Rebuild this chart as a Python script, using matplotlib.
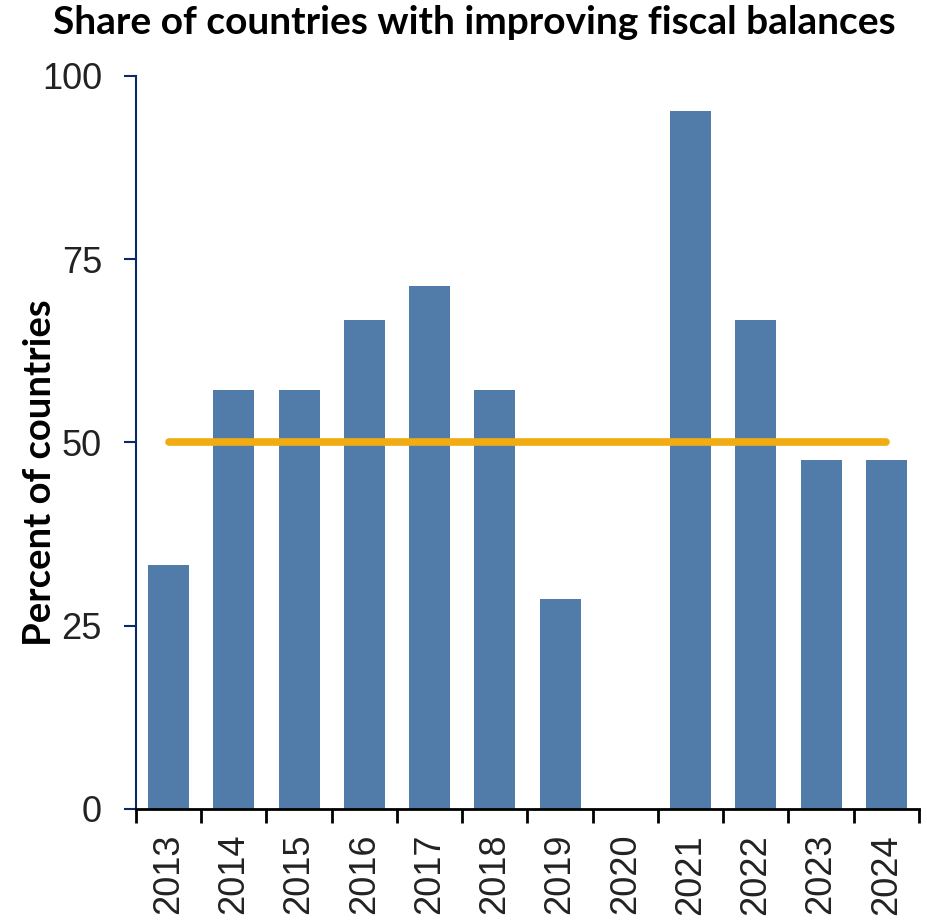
import matplotlib.pyplot as plt
import numpy as np

years = ['2013', '2014', '2015', '2016', '2017', '2018',
         '2019', '2020', '2021', '2022', '2023', '2024']
share = [33.3, 57.1, 57.1, 66.7, 71.4, 57.1, 28.6, 0.0, 95.2, 66.7, 47.6, 47.6]
threshold = 50

bar_col = '#517BA8'
line_col = '#F0AC10'
navy = '#0B2A6B'

fig = plt.figure(figsize=(9.28, 9.21), dpi=100)
ax = fig.add_axes([136/928, 1-809/921, (919-136)/928, (809-76)/921])

x = np.arange(len(years))
ax.bar(x, share, width=0.63, color=bar_col, zorder=2)
ax.plot([x[0], x[-1]], [threshold, threshold], color=line_col, lw=5.5,
        solid_capstyle='round', zorder=3)

ax.set_xlim(-0.5, len(years) - 0.5)
ax.set_ylim(0, 100)
ax.set_yticks([0, 25, 50, 75, 100])
ax.tick_params(axis='y', direction='out', length=8.5, width=1.5, color=navy,
               labelsize=26, pad=16)
for lab in ax.get_yticklabels():
    lab.set_family('Liberation Sans')
    lab.set_color('#222222')

# ticks between categories, labels at centers
ax.set_xticks(np.arange(len(years) + 1) - 0.5)
ax.set_xticklabels([])
ax.set_xticks(x, minor=True)
ax.set_xticklabels(years, minor=True, rotation=90, fontsize=26,
                   family='Liberation Sans', color='#222222')
ax.tick_params(axis='x', which='major', direction='out', length=10, width=2,
               color='black')
ax.tick_params(axis='x', which='minor', length=0, pad=18)

for s in ['top', 'right']:
    ax.spines[s].set_visible(False)
ax.spines['left'].set_color(navy)
ax.spines['left'].set_linewidth(1.5)
ax.spines['bottom'].set_color('black')
ax.spines['bottom'].set_linewidth(2)

fig.text(40/928, 1-473/921, 'Percent of countries', rotation=90, ha='center',
         va='center', fontsize=27.5, fontweight='bold', family='Lato')
fig.text(474/928, 1-22/921, 'Share of countries with improving fiscal balances',
         ha='center', va='center', fontsize=28, fontweight='bold', family='Lato')

fig.savefig('out.png', dpi=100)
